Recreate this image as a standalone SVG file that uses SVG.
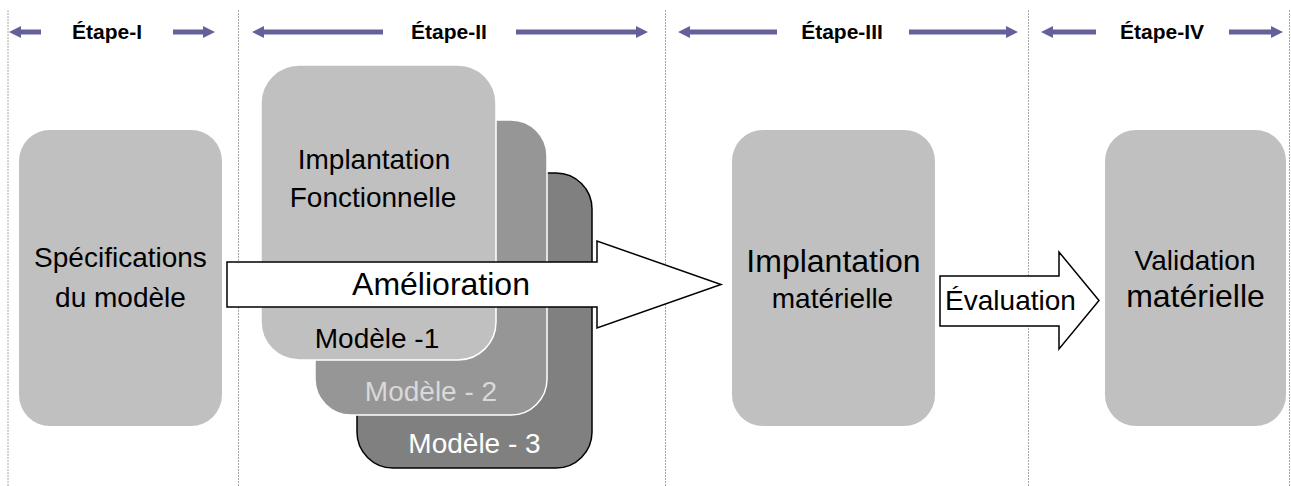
<svg xmlns="http://www.w3.org/2000/svg" width="1291" height="486" viewBox="0 0 1291 486">
<style>
.sep{stroke:#a8a8a8;stroke-width:1;stroke-dasharray:2,1;fill:none}
.harr{fill:#63609a}
.hd{font-family:"Liberation Sans",Arial,sans-serif;font-weight:bold;font-size:21px;fill:#000;text-anchor:middle}
.t{font-family:"Liberation Sans",Arial,sans-serif;fill:#000;text-anchor:middle}
.box{fill:#c0c0c0}
.blk{fill:#fff;stroke:#000;stroke-width:1.5}
</style>
<rect width="1291" height="486" fill="#fff"/>
<g id="separators">
<line class="sep" x1="8" y1="10" x2="8" y2="486"/>
<line class="sep" x1="238.5" y1="10" x2="238.5" y2="486"/>
<line class="sep" x1="665.5" y1="10" x2="665.5" y2="486"/>
<line class="sep" x1="1028.5" y1="10" x2="1028.5" y2="486"/>
<line class="sep" x1="1289.5" y1="10" x2="1289.5" y2="486"/>
</g>
<g id="headers">
<polygon class="harr" points="41,29.5 21,29.5 21,26 9,32 21,38 21,34.5 41,34.5"/>
<text class="hd" x="107" y="39">Étape-I</text>
<polygon class="harr" points="173,29.5 203,29.5 203,26 215,32 203,38 203,34.5 173,34.5"/>
<polygon class="harr" points="383,29.5 264,29.5 264,26 252,32 264,38 264,34.5 383,34.5"/>
<text class="hd" x="449" y="39">Étape-II</text>
<polygon class="harr" points="516,29.5 636,29.5 636,26 648,32 636,38 636,34.5 516,34.5"/>
<polygon class="harr" points="777,29.5 690,29.5 690,26 678,32 690,38 690,34.5 777,34.5"/>
<text class="hd" x="842" y="39">Étape-III</text>
<polygon class="harr" points="909,29.5 1006,29.5 1006,26 1018,32 1006,38 1006,34.5 909,34.5"/>
<polygon class="harr" points="1096,29.5 1053,29.5 1053,26 1041,32 1053,38 1053,34.5 1096,34.5"/>
<text class="hd" x="1162" y="39">Étape-IV</text>
<polygon class="harr" points="1229,29.5 1271,29.5 1271,26 1283,32 1271,38 1271,34.5 1229,34.5"/>
</g>
<g id="specifications">
<rect class="box" x="19" y="130" width="203" height="296" rx="31" ry="31"/>
<text class="t" x="120.5" y="267" font-size="28">Spécifications</text>
<text class="t" x="120.5" y="307" font-size="28">du modèle</text>
</g>
<g id="modele3">
<rect x="357" y="173" width="235" height="295" rx="36" ry="36" fill="#808080" stroke="#000" stroke-width="1.5"/>
<text class="t" x="474.5" y="453" font-size="28" fill="#fff" style="fill:#fff">Modèle - 3</text>
</g>
<g id="modele2">
<rect x="315" y="120" width="232" height="295" rx="36" ry="36" fill="#969696" stroke="#fff" stroke-width="1.5"/>
<text class="t" x="431" y="401" font-size="28" style="fill:#d9d9d9">Modèle - 2</text>
</g>
<g id="modele1">
<rect x="261" y="65" width="235" height="295" rx="38" ry="38" fill="#c0c0c0" stroke="#fff" stroke-width="1.5"/>
<text class="t" x="374" y="169" font-size="28">Implantation</text>
<text class="t" x="373" y="207" font-size="28">Fonctionnelle</text>
<text class="t" x="377" y="348" font-size="28">Modèle -1</text>
</g>
<g id="implantation-materielle">
<rect class="box" x="732" y="130" width="203" height="296" rx="31" ry="31"/>
<text class="t" x="833.5" y="272" font-size="32">Implantation</text>
<text class="t" x="832.5" y="308" font-size="28">matérielle</text>
</g>
<g id="validation">
<rect class="box" x="1105" y="130" width="181" height="296" rx="31" ry="31"/>
<text class="t" x="1195" y="270" font-size="28">Validation</text>
<text class="t" x="1195.5" y="307" font-size="32">matérielle</text>
</g>
<g id="connectors">
<path class="blk" d="M227,262 H597 V241 L721,284.5 L597,328 V307 H227 Z"/>
<text class="t" x="441" y="295" font-size="32">Amélioration</text>
<path class="blk" d="M940,276 H1059 V252 L1099,300.5 L1059,349 V326 H940 Z"/>
<text class="t" x="1010.5" y="310" font-size="28">Évaluation</text>
</g>
</svg>
